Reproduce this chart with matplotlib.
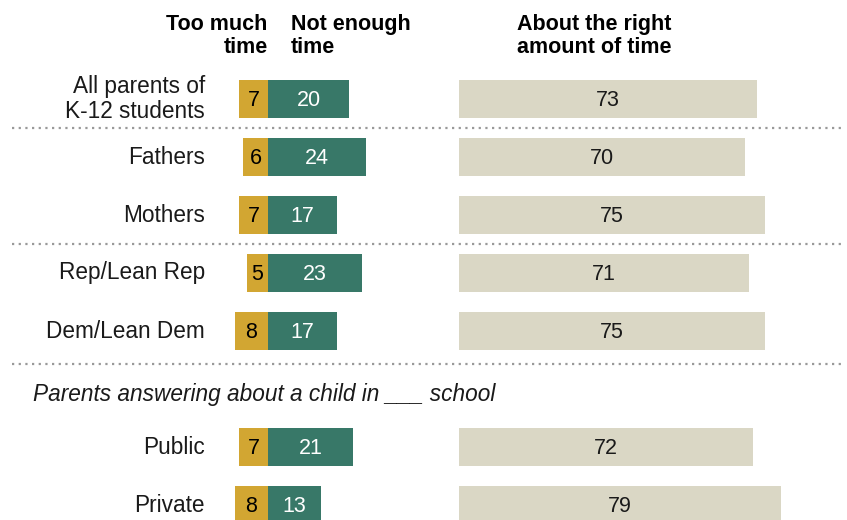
import matplotlib.pyplot as plt

# survey groups and shares (%)
groups = ["All parents of\nK-12 students", "Fathers", "Mothers",
          "Rep/Lean Rep", "Dem/Lean Dem", "Public", "Private"]
too_much = [7, 6, 7, 5, 8, 7, 8]
not_enough = [20, 24, 17, 23, 17, 21, 13]
about_right = [73, 70, 75, 71, 75, 72, 79]

gold = "#D2A632"
green = "#387868"
beige = "#DAD7C5"

plt.rcParams['font.family'] = ['Liberation Sans', 'DejaVu Sans']

fig = plt.figure(figsize=(8.47, 5.2), dpi=100)
ax = fig.add_axes([0, 0, 1, 1])

# one value unit = 4.08 px, split between gold and green at x=0
px = 4.08
x0 = 267.7 / px
ax.set_xlim(-x0, 847 / px - x0)
ax.set_ylim(520, 0)
ax.axis("off")

right_start = 459 / px - x0
row_slots = [0, 1, 2, 3, 4, 6, 7]
ys = [99 + 58 * s for s in row_slots]
h = 38

ax.barh(ys, [-v for v in too_much], height=h, color=gold)
ax.barh(ys, not_enough, height=h, color=green)
ax.barh(ys, about_right, left=right_start, height=h, color=beige)

fs = 16.3
nfs = 15.5
for y, g, t, n, a in zip(ys, groups, too_much, not_enough, about_right):
    ax.text(205 / px - x0, y, g, ha="right", va="center",
            fontsize=fs, linespacing=1.15, color="#1a1a1a")
    ax.text(-t / 2, y + 1, str(t), ha="center", va="center", fontsize=nfs, color="black")
    ax.text(n / 2, y + 1, str(n), ha="center", va="center", fontsize=nfs, color="white")
    ax.text(right_start + a / 2, y + 1, str(a), ha="center", va="center",
            fontsize=nfs, color="#1a1a1a")

# column headers
hfs = 15.5
ax.text(0, 36, "Too much\ntime", ha="right", va="center", fontsize=hfs,
        fontweight="bold", linespacing=1.15)
ax.text(291 / px - x0, 36, "Not enough\ntime", ha="left", va="center",
        fontsize=hfs, fontweight="bold", linespacing=1.15)
ax.text(517 / px - x0, 36, "About the right\namount of time", ha="left",
        va="center", fontsize=hfs, fontweight="bold", linespacing=1.15)

# dotted separators
for yl in [128, 244, 364]:
    ax.plot([12 / px - x0, 845 / px - x0], [yl, yl],
            linestyle=(0, (1, 2)), color="#999999", linewidth=1.6)

ax.text(33 / px - x0, 394, "Parents answering about a child in ___ school",
        ha="left", va="center", fontsize=fs, style="italic", color="#1a1a1a")

fig.savefig("out.png", dpi=100)
